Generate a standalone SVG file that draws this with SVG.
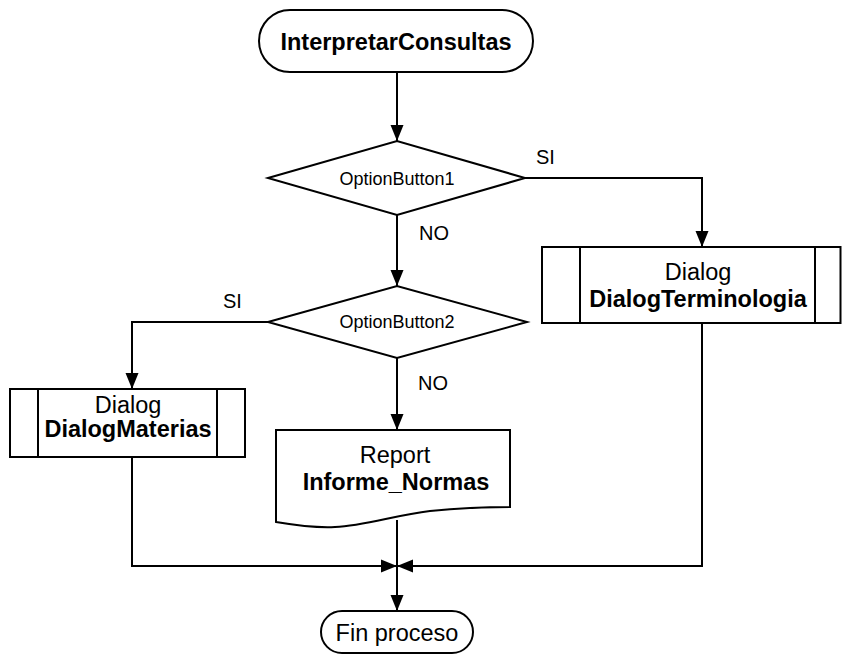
<svg xmlns="http://www.w3.org/2000/svg" width="842" height="654" viewBox="0 0 842 654">
  <defs>
    <marker id="arrow" markerUnits="userSpaceOnUse" markerWidth="16" markerHeight="14" refX="16" refY="7" orient="auto">
      <path d="M0,0.5 L16,7 L0,13.5 Z" fill="#000"/>
    </marker>
    <style>
      .shape { fill: #fff; stroke: #000; stroke-width: 2; }
      .edge { fill: none; stroke: #000; stroke-width: 2; marker-end: url(#arrow); }
      .line { fill: none; stroke: #000; stroke-width: 2; }
      text { font-family: "Liberation Sans", Arial, sans-serif; fill: #000; text-anchor: middle; }
      .big { font-size: 23.5px; }
      .bold { font-weight: bold; }
      .cond { font-size: 18px; }
      .lbl { font-size: 20px; text-anchor: start; }
    </style>
  </defs>

  <rect width="842" height="654" fill="#fff"/>

  <!-- connectors -->
  <g id="connectors">
    <path class="edge" d="M397,72 V141"/>
    <path class="edge" d="M525,178 H702 V247"/>
    <path class="edge" d="M397,215 V286"/>
    <path class="edge" d="M268,322 H132 V389"/>
    <path class="edge" d="M397,358 V430"/>
    <path class="edge" d="M132,457 V566 H397"/>
    <path class="edge" d="M702,323 V566 H397"/>
    <path class="edge" d="M397,520 V611"/>
    <text class="lbl" x="536" y="164">SI</text>
    <text class="lbl" x="419" y="240">NO</text>
    <text class="lbl" x="223" y="308">SI</text>
    <text class="lbl" x="418" y="390">NO</text>
  </g>

  <!-- start terminator -->
  <g id="start">
    <rect class="shape" x="259" y="10" width="274" height="62" rx="31" ry="31"/>
    <text class="big bold" x="396" y="50">InterpretarConsultas</text>
  </g>

  <!-- first decision -->
  <g id="decision1">
    <polygon class="shape" points="268,178 397,141 525,178 397,215"/>
    <text class="cond" x="397" y="185">OptionButton1</text>
  </g>

  <!-- terminology dialog -->
  <g id="dialogTerminologia">
    <rect class="shape" x="542" y="247" width="298.5" height="76"/>
    <path class="line" d="M580,247 V323 M815,247 V323"/>
    <text class="big" x="698" y="280">Dialog</text>
    <text class="big bold" x="698" y="307">DialogTerminologia</text>
  </g>

  <!-- second decision -->
  <g id="decision2">
    <polygon class="shape" points="268,322 397,286 527,322 397,358"/>
    <text class="cond" x="397" y="328">OptionButton2</text>
  </g>

  <!-- subjects dialog -->
  <g id="dialogMaterias">
    <rect class="shape" x="10" y="389" width="235" height="68"/>
    <path class="line" d="M38,389 V457 M217,389 V457"/>
    <text class="big" x="128" y="413">Dialog</text>
    <text class="big bold" x="128" y="437">DialogMaterias</text>
  </g>

  <!-- report document -->
  <g id="reportNormas">
    <path class="shape" d="M276,430 H510 V507 C490,507 460,508 430,511 C395,515 365,526 335,527 C318,528 300,526 276,522 Z"/>
    <text class="big" x="395" y="463">Report</text>
    <text class="big bold" x="396" y="490">Informe_Normas</text>
  </g>

  <!-- end terminator -->
  <g id="end">
    <rect class="shape" x="321" y="611" width="152" height="42" rx="21" ry="21"/>
    <text class="big" x="397" y="641">Fin proceso</text>
  </g>
</svg>
